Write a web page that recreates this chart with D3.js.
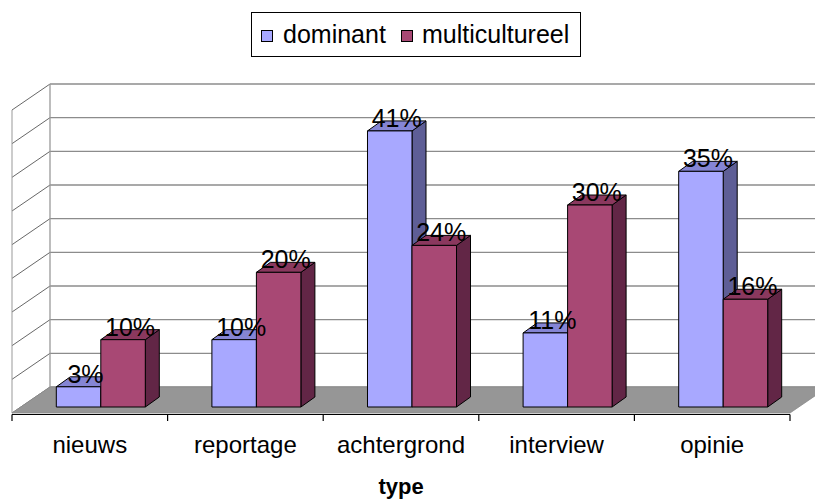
<!DOCTYPE html>
<html>
<head>
<meta charset="utf-8">
<script src="https://cdn.jsdelivr.net/npm/d3@7"></script>
<style>
  body { margin: 0; background: #fff; }
  svg { display: block; font-family: "Liberation Sans", Arial, sans-serif; }
</style>
</head>
<body>
<div id="chart"></div>
<script>
const categories = ["nieuws", "reportage", "achtergrond", "interview", "opinie"];
const dominant = [3, 10, 41, 11, 35];
const multicultureel = [10, 20, 24, 30, 16];
const seriesNames = ["dominant", "multicultureel"];
const gridTicks = [0, 5, 10, 15, 20, 25, 30, 35, 40, 45];

const width = 815, height = 499;

const svg = d3.select("#chart").append("svg")
  .attr("width", width)
  .attr("height", height);

// 3d frame
const depthX = 38, depthY = -26;     // floor / wall depth
const barDX = 14, barDY = -10;       // bar depth
const frontY = 413;                  // front edge of floor
const barBase = 407;                 // bars stand here

const x = d3.scaleBand().domain(categories).range([12, 790]);
const yBack = d3.scaleLinear().domain([0, 45]).range([frontY + depthY, frontY + depthY - 303]);
const yBar = d3.scaleLinear().domain([0, 45]).range([barBase, barBase - 303]);

const colors = {
  dominant: { front: "#a8a8ff", top: "#8585d4", side: "#5e5e96" },
  multicultureel: { front: "#a84874", top: "#8a385e", side: "#622646" }
};

const wallLeft = 12 + depthX;
const wallRight = 790 + depthX;

// left side wall
const side = svg.append("g");
gridTicks.forEach(t => {
  const yb = yBack(t);
  side.append("line")
    .attr("x1", 12).attr("y1", yb - depthY)
    .attr("x2", wallLeft).attr("y2", yb)
    .attr("stroke", "#404040").attr("stroke-width", 0.8);
});
side.append("line")
  .attr("x1", 12).attr("x2", 12)
  .attr("y1", yBack(45) - depthY).attr("y2", frontY)
  .attr("stroke", "#999").attr("stroke-width", 1);

// back wall grid
const grid = svg.append("g");
gridTicks.forEach(t => {
  grid.append("line")
    .attr("x1", wallLeft).attr("x2", wallRight)
    .attr("y1", yBack(t)).attr("y2", yBack(t))
    .attr("stroke", "#8c8c8c").attr("stroke-width", 1.3);
});
grid.append("line")
  .attr("x1", wallLeft).attr("x2", wallLeft)
  .attr("y1", yBack(45)).attr("y2", yBack(0))
  .attr("stroke", "#999").attr("stroke-width", 1.3);

// floor
svg.append("path")
  .attr("d", `M12,${frontY} L790,${frontY} L${wallRight},${frontY + depthY} L${wallLeft},${frontY + depthY} Z`)
  .attr("fill", "#969696")
  .attr("stroke", "#8c8c8c")
  .attr("stroke-width", 0.8);

// axis line and ticks
const axis = svg.append("g");
axis.append("line")
  .attr("x1", 12).attr("x2", 790)
  .attr("y1", frontY + 1.5).attr("y2", frontY + 1.5)
  .attr("stroke", "#000").attr("stroke-width", 1.2);
const tickPos = categories.map(c => x(c)).concat([x.range()[1]]);
tickPos.forEach(p => {
  axis.append("line")
    .attr("x1", p).attr("x2", p)
    .attr("y1", frontY + 1.5).attr("y2", frontY + 8)
    .attr("stroke", "#000").attr("stroke-width", 1.2);
});

// bars
const barW = x.bandwidth() * 0.286;
const bars = svg.append("g");
const labels = [];

categories.forEach((c, i) => {
  const center = x(c) + x.bandwidth() / 2 + 11;
  [dominant[i], multicultureel[i]].forEach((v, j) => {
    const col = colors[seriesNames[j]];
    const x0 = center - barW + j * barW, x1 = x0 + barW;
    const yt = yBar(v), yb = yBar(0);
    const g = bars.append("g")
      .attr("stroke", "#000").attr("stroke-width", 1).attr("stroke-linejoin", "round");
    g.append("path")
      .attr("d", `M${x1},${yb} L${x1 + barDX},${yb + barDY} L${x1 + barDX},${yt + barDY} L${x1},${yt} Z`)
      .attr("fill", col.side);
    g.append("path")
      .attr("d", `M${x0},${yt} L${x1},${yt} L${x1 + barDX},${yt + barDY} L${x0 + barDX},${yt + barDY} Z`)
      .attr("fill", col.top);
    g.append("rect")
      .attr("x", x0).attr("y", yt)
      .attr("width", barW).attr("height", yb - yt)
      .attr("fill", col.front);
    labels.push({ x: (x0 + x1) / 2 + barDX / 2, y: yt - 4, text: v + "%" });
  });
});

svg.append("g").selectAll("text")
  .data(labels)
  .join("text")
  .attr("x", d => d.x)
  .attr("y", d => d.y)
  .attr("text-anchor", "middle")
  .attr("font-size", 25)
  .attr("fill", "#000")
  .text(d => d.text);

// category labels
svg.append("g").selectAll("text")
  .data(categories)
  .join("text")
  .attr("x", d => x(d) + x.bandwidth() / 2)
  .attr("y", 453)
  .attr("text-anchor", "middle")
  .attr("font-size", 24)
  .text(d => d);

svg.append("text")
  .attr("x", 401)
  .attr("y", 494)
  .attr("text-anchor", "middle")
  .attr("font-size", 22)
  .attr("font-weight", "bold")
  .text("type");

// legend
const legend = svg.append("g");
legend.append("rect")
  .attr("x", 251.5).attr("y", 12.5)
  .attr("width", 329).attr("height", 44)
  .attr("fill", "#fff").attr("stroke", "#000").attr("stroke-width", 1);
const legendItems = [
  { name: seriesNames[0], sx: 261, tx: 283 },
  { name: seriesNames[1], sx: 401, tx: 422 }
];
legendItems.forEach(d => {
  legend.append("rect")
    .attr("x", d.sx + 0.5).attr("y", 30.5)
    .attr("width", 11).attr("height", 11)
    .attr("fill", colors[d.name].front)
    .attr("stroke", "#000").attr("stroke-width", 1);
  legend.append("text")
    .attr("x", d.tx).attr("y", 43)
    .attr("font-size", 25)
    .text(d.name);
});
</script>
</body>
</html>
